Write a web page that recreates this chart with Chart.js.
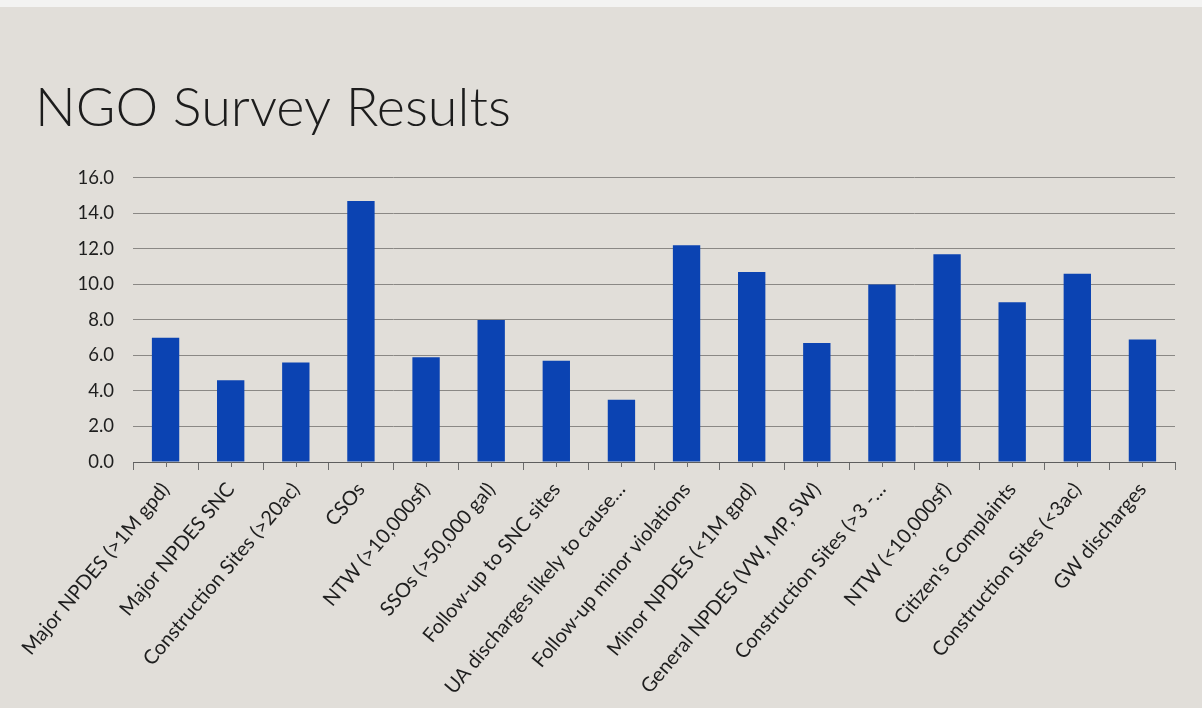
<!DOCTYPE html>
<html>
<head>
<meta charset="utf-8">
<script src="https://cdn.jsdelivr.net/npm/chart.js@4.4.1/dist/chart.umd.min.js"></script>
<style>
    html, body { margin: 0; padding: 0; }
    body {
        width: 1202px; height: 708px; overflow: hidden;
        background: linear-gradient(#f3f3f2 0 7px, #e1ded9 7px);
    }
    #wrap { position: absolute; left: 0; top: 0; width: 1202px; height: 708px; }
</style>
</head>
<body>
<div id="wrap"><canvas id="surveyChart"></canvas></div>
<script>
const categories = [
    'Major NPDES (>1M gpd)', 'Major NPDES SNC', 'Construction Sites (>20ac)', 'CSOs',
    'NTW (>10,000sf)', 'SSOs (>50,000 gal)', 'Follow-up to SNC sites', 'UA discharges likely to cause…',
    'Follow-up minor violations', 'Minor NPDES (<1M gpd)', 'General NPDES (VW, MP, SW)', 'Construction Sites (>3 -…',
    'NTW (<10,000sf)', "Citizen's Complaints", 'Construction Sites (<3ac)', 'GW discharges'
];
const scores = [7.0, 4.6, 5.6, 14.7, 5.9, 8.0, 5.7, 3.5, 12.2, 10.7, 6.7, 10.0, 11.7, 9.0, 10.6, 6.9];
const yTicks = [0, 2, 4, 6, 8, 10, 12, 14, 16];

// small tick marks under each category centre (boundary ticks come from the grid)
const centreTicks = {
    id: 'centreTicks',
    afterDraw(chart) {
        const x = chart.scales.x, ctx = chart.ctx;
        ctx.save();
        ctx.strokeStyle = '#6b6b6b';
        ctx.lineWidth = 1;
        categories.forEach((c, i) => {
            const px = Math.round(x.getPixelForValue(i)) + 0.5;
            ctx.beginPath();
            ctx.moveTo(px, x.top);
            ctx.lineTo(px, x.top + 5);
            ctx.stroke();
        });
        ctx.restore();
    }
};

const ctx = document.getElementById('surveyChart').getContext('2d');
new Chart(ctx, {
    type: 'bar',
    data: {
        labels: categories,
        datasets: [{
            data: scores,
            backgroundColor: '#0b43b2',
            barPercentage: 0.84,
            categoryPercentage: 0.5
        }]
    },
    options: {
        responsive: true,
        maintainAspectRatio: false,
        animation: false,
        layout: { padding: { left: 35, right: 27, top: 76, bottom: 6 } },
        plugins: {
            legend: { display: false },
            tooltip: { enabled: false },
            title: {
                display: true,
                text: 'NGO Survey Results',
                align: 'start',
                color: '#1c1c1c',
                font: { family: 'Lato', size: 54, weight: '300' },
                padding: { top: 0, bottom: 37 }
            }
        },
        scales: {
            y: {
                min: 0,
                max: 16,
                afterBuildTicks: axis => { axis.ticks = yTicks.map(v => ({ value: v })); },
                afterFit: axis => { axis.width = 98; },
                border: { display: false },
                grid: { color: '#8a8885', lineWidth: 1, drawTicks: false },
                ticks: {
                    padding: 19,
                    color: '#1e1e1e',
                    font: { family: 'Lato', size: 18.5 },
                    callback: v => v.toFixed(1)
                }
            },
            x: {
                afterFit: axis => { axis.height = 240; },
                border: { display: true, color: '#5e5e5e', width: 1 },
                grid: { offset: true, drawOnChartArea: false, color: '#6b6b6b', tickLength: 8 },
                ticks: {
                    color: '#1e1e1e',
                    autoSkip: false,
                    minRotation: 50,
                    maxRotation: 50,
                    padding: 8,
                    font: { family: 'Lato', size: 20 }
                }
            }
        }
    },
    plugins: [centreTicks]
});
</script>
</body>
</html>
